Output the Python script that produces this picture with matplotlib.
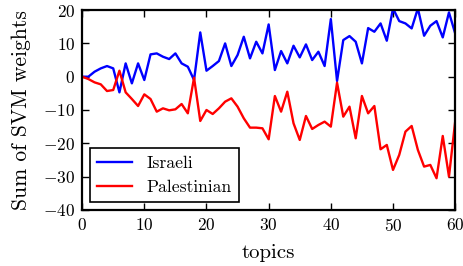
import matplotlib

matplotlib.use("Agg")
import matplotlib.pyplot as plt
import numpy as np

topics = np.arange(61)

israeli = [0, 0, 1.5, 2.5, 3.2, 2.5, -4.7, 4, -2, 4, -1, 6.7, 7, 6, 5.3, 7,
           4.0, 3, -1, 13.3, 1.8, 3.2, 4.7, 10, 3.2, 6.5, 12, 5.5, 10.5, 7, 15.7,
           2, 7.7, 4, 9.3, 5.8, 9.7, 5, 7.5, 3.2, 17.3, -1.3, 11, 12.2, 10.5, 4,
           14.6, 13.5, 16, 10.8, 20.5, 16.7, 16, 14.5, 20.5, 12.3, 15.3, 16.7, 11.8, 19.3, 13]

palestinian = [0, -0.7, -1.7, -2.3, -4.3, -4, 1.8, -4.7, -6.7, -8.8, -5.3, -6.7, -10.5, -9.5, -10.1, -9.8,
               -8.2, -11, -0.3, -13.3, -10, -11.2, -9.5, -7.5, -6.5, -9, -12.5, -15.3, -15.3, -15.5, -18.8,
               -5.8, -10.5, -4.5, -14, -19, -11.8, -15.7, -14.5, -13.5, -15, -1.8, -12, -9, -18.5, -5.8,
               -11, -8.8, -21.8, -20.5, -28, -23.5, -16.5, -14.8, -22, -27, -26.5, -30.5, -17.8, -30, -13.5]

plt.rcParams["font.family"] = "serif"
plt.rcParams["font.serif"] = ["cmr10", "DejaVu Serif"]
plt.rcParams["mathtext.fontset"] = "cm"
plt.rcParams["axes.formatter.use_mathtext"] = True

fig = plt.figure(figsize=(4.64, 2.66), dpi=100)
ax = fig.add_axes([0.177, 0.211, 0.804, 0.751])

ax.plot(topics, israeli, color="blue", linewidth=1.7, label="Israeli")
ax.plot(topics, palestinian, color="red", linewidth=1.7, label="Palestinian")

ax.set_xlim(0, 60)
ax.set_ylim(-40, 20)
ax.set_xticks(range(0, 61, 10))
ax.set_yticks(range(-40, 21, 10))
ax.tick_params(direction="in", top=True, right=True, length=5, width=1, labelsize=12.5, pad=5)
for s in ax.spines.values():
    s.set_linewidth(1.6)

ax.set_xlabel("topics", fontsize=15, labelpad=7)
ax.set_ylabel("Sum of SVM weights", fontsize=15.5, labelpad=9)

leg = ax.legend(loc="lower left", fontsize=12.7, fancybox=False, framealpha=1,
                edgecolor="black", borderaxespad=0.45, handlelength=2.0)
leg.get_frame().set_linewidth(1.2)

plt.savefig("out.png", dpi=100)
plt.close(fig)
